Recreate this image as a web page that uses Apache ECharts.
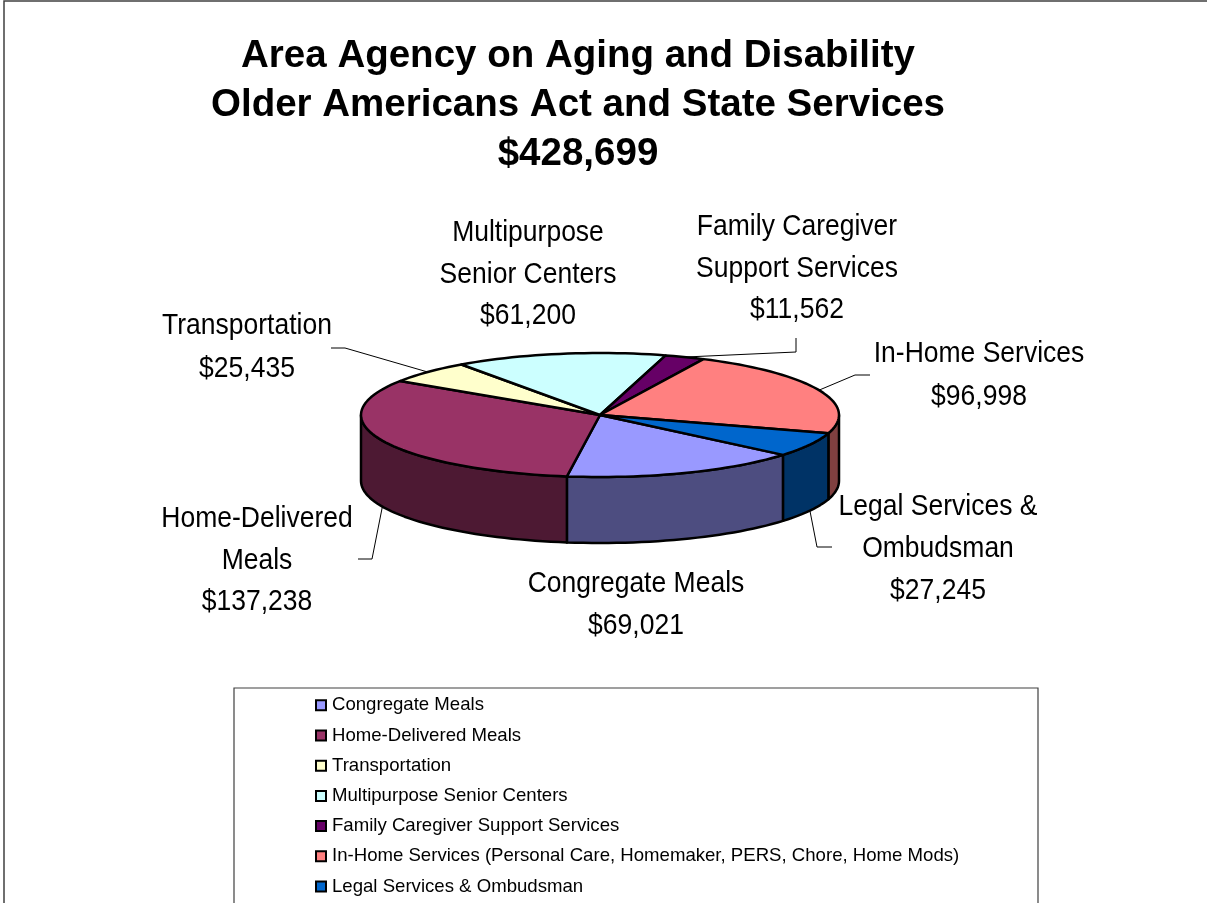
<!DOCTYPE html>
<html>
<head>
<meta charset="utf-8">
<style>html,body{margin:0;padding:0;background:#fff;overflow:hidden}#c{width:1207px;height:903px}</style>
<script src="https://cdn.jsdelivr.net/npm/echarts@6/dist/echarts.min.js"></script>
</head>
<body>
<div id="c"></div>
<script>
// Data
const categories = ['Congregate Meals','Home-Delivered Meals','Transportation','Multipurpose Senior Centers','Family Caregiver Support Services','In-Home Services (Personal Care, Homemaker, PERS, Chore, Home Mods)','Legal Services & Ombudsman'];
const amounts = [69021,137238,25435,61200,11562,96998,27245];
const labelLines = [['Congregate Meals'],['Home-Delivered','Meals'],['Transportation'],['Multipurpose','Senior Centers'],['Family Caregiver','Support Services'],['In-Home Services'],['Legal Services &','Ombudsman']];
const titleText = 'Area Agency on Aging and Disability\nOlder Americans Act and State Services\n$428,699';

// Styles and layout
const topColors = ['#9999FF','#993366','#FFFFCC','#CCFFFF','#660066','#FF8080','#0066CC'];
const sideColors = ['#4D4D80','#4D1933','#808066','#668080','#330033','#804040','#003366'];
const pie = {cx:600, cy:415, rx:239, ry:62, depth:66, start:40};
const labelPos = [
  {x:636, y:584, dy:42},
  {x:257, y:519, dy:41.5, leader:[[372,559],[358,559]]},
  {x:247, y:326, dy:43, leader:[[345,348],[331,348]]},
  {x:528, y:233, dy:41.5},
  {x:797, y:227, dy:41.5, leader:[[796,352],[796,338]]},
  {x:979, y:354, dy:43, leader:[[855,375],[870,375]]},
  {x:938, y:507, dy:42, leader:[[817,547],[832,547]]}
];
const total = amounts.reduce((a,b)=>a+b,0);
const deg = Math.PI/180;
const pt = (a,dz)=>[pie.cx+pie.rx*Math.cos(a*deg), pie.cy+pie.ry*Math.sin(a*deg)+(dz||0)];
const money = v=>'$'+v.toLocaleString('en-US');

function arcPts(a0,a1,dz){
  const n=Math.max(2,Math.ceil(Math.abs(a1-a0)/2)); const out=[];
  for(let i=0;i<=n;i++) out.push(pt(a0+(a1-a0)*i/n,dz));
  return out;
}
function sideRanges(a0,a1){
  const r=[];
  for(const base of [0,360]){
    const s=Math.max(a0,base), e=Math.min(a1,base+180);
    if(e>s) r.push([s,e]);
  }
  return r;
}
const stroke={stroke:'#000',lineWidth:2.5,lineJoin:'round'};

const series = categories.map((name,i)=>({
  type:'custom', name, coordinateSystem:'none', silent:true,
  itemStyle:{color:topColors[i]},
  data:[[amounts[i]]],
  z:2,
  renderItem:(params,api)=>{
    const before=amounts.slice(0,i).reduce((a,b)=>a+b,0);
    const a0=pie.start+before/total*360;
    const a1=a0+api.value(0)/total*360;
    const mid=(a0+a1)/2, children=[];
    const L=labelPos[i];
    if(L.leader){
      const m=((mid%360)+360)%360;
      const anchor=pt(mid, m<180?pie.depth:0);
      children.push({type:'polyline',z2:0,shape:{points:[anchor,...L.leader]},style:{fill:null,stroke:'#000',lineWidth:1}});
    }
    for(const [s,e] of sideRanges(a0,a1)){
      children.push({type:'polygon',z2:1,shape:{points:[...arcPts(s,e,0),...arcPts(e,s,pie.depth)]},
        style:{fill:sideColors[i],...stroke}});
    }
    children.push({type:'polygon',z2:2,shape:{points:[[pie.cx,pie.cy],...arcPts(a0,a1,0)]},
      style:{fill:topColors[i],...stroke}});
    [...labelLines[i],money(api.value(0))].forEach((t,k)=>{
      children.push({type:'text',z2:3,x:L.x,y:L.y+k*L.dy,scaleY:1.13,
        style:{text:t,x:0,y:0,align:'center',verticalAlign:'middle',fill:'#000',
          font:'26.5px "Liberation Sans", Arial, sans-serif'}});
    });
    return {type:'group',children};
  }
}));

const chart = echarts.init(document.getElementById('c'),null,{renderer:'canvas'});
chart.setOption({
  animation:false,
  backgroundColor:'#fff',
  title:{text:titleText,left:573,top:27,textAlign:'center',
    textStyle:{fontFamily:'"Liberation Sans", Arial, sans-serif',fontWeight:'bold',fontSize:38.5,lineHeight:49,color:'#000'}},
  legend:{orient:'vertical',left:310,top:690,height:300,itemGap:9.6,itemWidth:10,itemHeight:10,icon:'rect',selectedMode:false,
    data:categories,
    itemStyle:{borderColor:'#000',borderWidth:2},
    textStyle:{fontFamily:'"Liberation Sans", Arial, sans-serif',fontSize:18.6,color:'#000',padding:[0,0,0,1],lineHeight:20.6}},
  graphic:[
    {type:'rect',silent:true,z:0,shape:{x:4,y:1,width:1400,height:1100},style:{fill:null,stroke:'#404040',lineWidth:1.5}},
    {type:'rect',silent:true,z:0,shape:{x:234,y:688,width:804,height:400},style:{fill:null,stroke:'#404040',lineWidth:1.2}}
  ],
  series
});
</script>
</body>
</html>
